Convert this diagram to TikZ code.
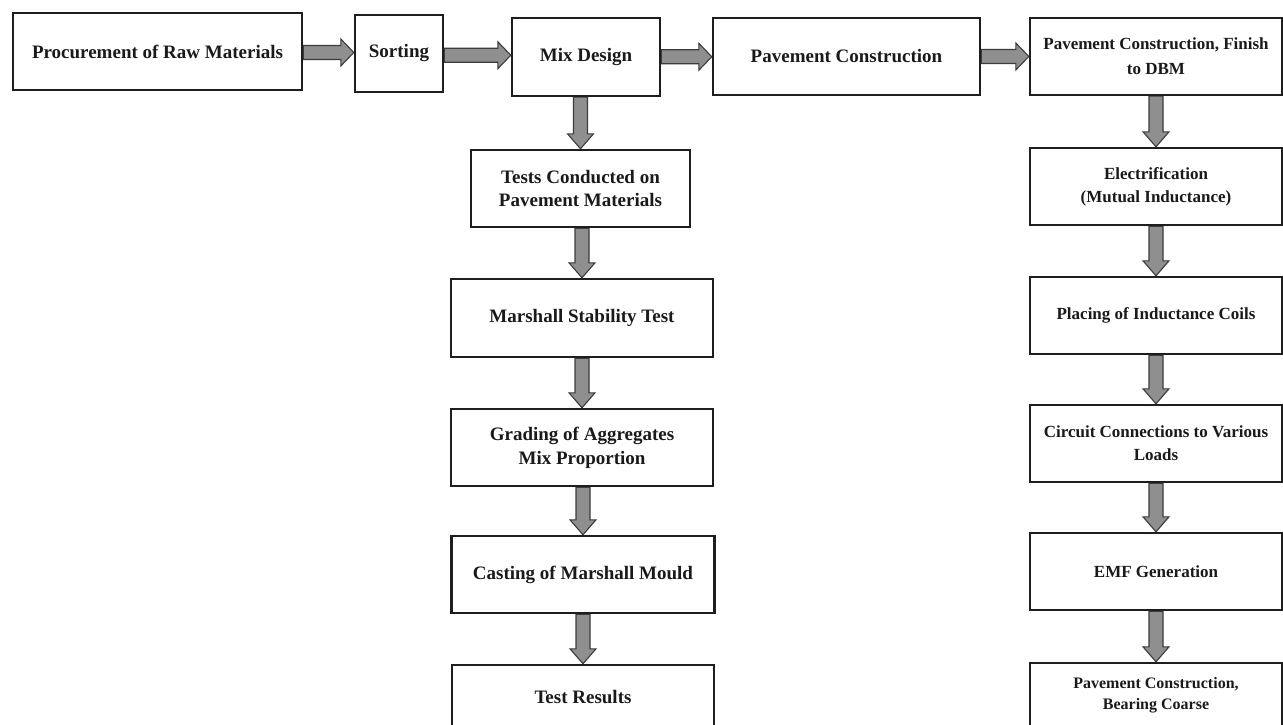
\documentclass[tikz,border=0pt]{standalone}
\usepackage{fontspec}
\setmainfont{Liberation Serif}
\usetikzlibrary{calc,backgrounds}
\definecolor{boxline}{HTML}{1E1E1E}
\definecolor{txt}{HTML}{1A1A1A}
\definecolor{arrowfill}{HTML}{8F8F8F}
\definecolor{arrowline}{HTML}{3C3C3C}
\tikzset{
  box/.style={draw=boxline, line width=2.4pt, rectangle, inner sep=0pt, align=center,
    text=txt, font=\bfseries\fontsize{19}{24}\selectfont},
  rbox/.style={box, font=\bfseries\fontsize{17}{23}\selectfont},
  fatarrow/.style={draw=arrowline, fill=arrowfill, line width=1.1pt, line join=miter}
}
\newcommand{\hfatarrow}[2]{\path[fatarrow] let \p1=(#1), \p2=(#2), \p3=($(#1)!0.5!(#2)$) in
  (\x1,\y3+7pt) -- (\x2-13pt,\y3+7pt) -- (\x2-13pt,\y3+13.5pt) -- (\x2,\y3)
  -- (\x2-13pt,\y3-13.5pt) -- (\x2-13pt,\y3-7pt) -- (\x1,\y3-7pt) -- cycle;}
\newcommand{\vfatarrow}[2]{\path[fatarrow] let \p1=(#1), \p2=(#2) in
  (\x2-7pt,\y1) -- (\x2-7pt,\y2+15pt) -- (\x2-13pt,\y2+15pt) -- (\x2,\y2)
  -- (\x2+13pt,\y2+15pt) -- (\x2+7pt,\y2+15pt) -- (\x2+7pt,\y1) -- cycle;}
\begin{document}
\begin{tikzpicture}[x=1pt,y=-1pt]
\clip (0,0) rectangle (1283,725);
% top row
\node[box, minimum width=289pt, minimum height=77pt] (proc) at (157.5,51.5) {Procurement of Raw Materials};
\node[box, minimum width=88pt, minimum height=77pt] (sort) at (399,53.5) {Sorting};
\node[box, minimum width=148pt, minimum height=78pt] (mix) at (586,57) {Mix Design};
\node[box, minimum width=267pt, minimum height=77pt] (pav) at (846.5,56.5) {Pavement Construction};
\node[rbox, font=\bfseries\fontsize{17}{25}\selectfont, minimum width=252pt, minimum height=77pt] (dbm) at (1156,56.5) {Pavement Construction, Finish\\to DBM};
% middle column
\node[box, minimum width=219pt, minimum height=77pt] (tests) at (580.5,188.5) {Tests Conducted on\\Pavement Materials};
\node[box, minimum width=262pt, minimum height=78pt] (marsh) at (582,318) {Marshall Stability Test};
\node[box, minimum width=262pt, minimum height=77pt] (grad) at (582,447.5) {Grading of Aggregates\\Mix Proportion};
\node[box, minimum width=263pt, minimum height=77pt] (cast) at (583,574.5) {Casting of Marshall Mould};
\node[box, minimum width=262pt, minimum height=64pt] (res) at (583,697) {Test Results};
% right column
\node[rbox, minimum width=252pt, minimum height=77pt] (elec) at (1156,186.5) {Electrification\\(Mutual Inductance)};
\node[rbox, minimum width=252pt, minimum height=77pt] (plac) at (1156,315.5) {Placing of Inductance Coils};
\node[rbox, minimum width=252pt, minimum height=77pt] (circ) at (1156,443.5) {Circuit Connections to Various\\Loads};
\node[rbox, minimum width=252pt, minimum height=77pt] (emf) at (1156,571.5) {EMF Generation};
\node[rbox, font=\bfseries\fontsize{16}{21}\selectfont, minimum width=252pt, minimum height=64pt] (bear) at (1156,695) {Pavement Construction,\\Bearing Coarse};
\begin{scope}[on background layer]
\fill[white] (0,0) rectangle (1283,725);
\hfatarrow{proc.east}{sort.west}
\hfatarrow{sort.east}{mix.west}
\hfatarrow{mix.east}{pav.west}
\hfatarrow{pav.east}{dbm.west}
\vfatarrow{mix.south}{tests.north}
\vfatarrow{tests.south}{marsh.north}
\vfatarrow{marsh.south}{grad.north}
\vfatarrow{grad.south}{cast.north}
\vfatarrow{cast.south}{res.north}
\vfatarrow{dbm.south}{elec.north}
\vfatarrow{elec.south}{plac.north}
\vfatarrow{plac.south}{circ.north}
\vfatarrow{circ.south}{emf.north}
\vfatarrow{emf.south}{bear.north}
\end{scope}
\end{tikzpicture}
\end{document}
